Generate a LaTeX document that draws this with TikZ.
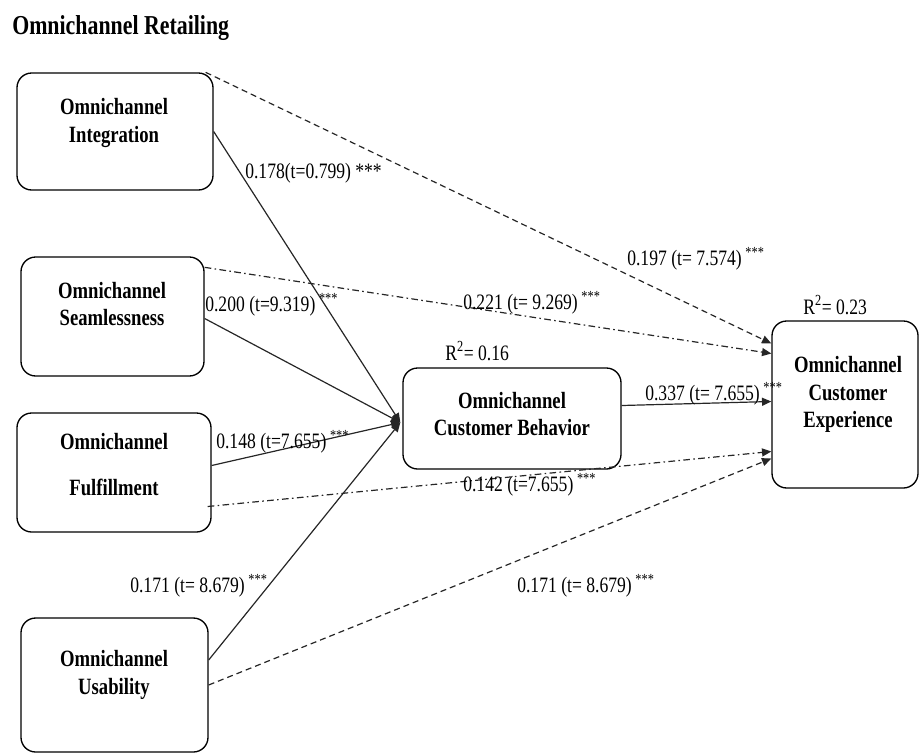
\documentclass[tikz,border=0pt]{standalone}
\usepackage{fontspec}
\setmainfont{Liberation Serif}[FakeStretch=0.8]
\usetikzlibrary{arrows.meta,calc}
\newcommand\sigstars{\textsuperscript{***}}
\begin{document}
\begin{tikzpicture}[x=0.75pt,y=-0.75pt,
  box/.style={draw, line width=1pt, rounded corners=11pt, inner sep=0pt},
  boxtext/.style={font=\fontsize{17.5}{20.5}\selectfont\bfseries, align=center, inner sep=0pt},
  lbl/.style={font=\fontsize{16.5}{19}\selectfont, inner sep=0pt, anchor=west},
  conn/.style={line width=0.9pt, draw=black!85, -{Triangle[length=7pt,width=6pt]}},
  dsh/.style={dash pattern=on 4.5pt off 3pt},
  dshdot/.style={dash pattern=on 5pt off 2.5pt on 1.2pt off 2.5pt}]
\useasboundingbox (0,0) rectangle (919,754);

% title
\node[inner sep=0pt, anchor=west, font=\fontsize{20.5}{24}\selectfont\bfseries] (title) at (12,28) {Omnichannel Retailing};

% boxes
\node[box, minimum width=147pt, minimum height=87.75pt] (intg) at (115,131.5) {};
\node[box, minimum width=137.25pt, minimum height=89.25pt] (seam) at (112.5,316.5) {};
\node[box, minimum width=145.5pt, minimum height=89.25pt] (ful) at (114,472.5) {};
\node[box, minimum width=140.25pt, minimum height=100.5pt] (usab) at (114.5,685) {};
\node[box, minimum width=163.5pt, minimum height=75.75pt] (cb) at (512,418.5) {};
\node[box, minimum width=109.5pt, minimum height=125.25pt] (ce) at (845,404.5) {};

% box texts
\node[boxtext] (intgT) at (114,123) {Omnichannel\\Integration};
\node[boxtext] (seamT) at (112,304) {Omnichannel\\Seamlessness};
\node[boxtext] (fulT) at (114,465) {Omnichannel\\[14pt]Fulfillment};
\node[boxtext] (usabT) at (114,675) {Omnichannel\\Usability};
\node[boxtext] (cbT) at (512,414) {Omnichannel\\Customer Behavior};
\node[boxtext] (ceT) at (848,394.5) {Omnichannel\\Customer\\Experience};

% connector end points
\coordinate (cbin) at ($(cb.west)+(-2,4)$);
\coordinate (seamA) at ($(seam.east)+(0,2)$);
\coordinate (seamB) at ($(seam.north east)+(0,11)$);
\coordinate (intgB) at ($(intg.north east)+(-8,0)$);
\coordinate (fulA) at ($(ful.east)+(0,-7)$);
\coordinate (fulB) at ($(ful.east)+(-4,34)$);
\coordinate (usabA) at ($(usab.east)+(0,-25)$);
\coordinate (cbout) at ($(cb.east)+(0,-13)$);
\coordinate (ceA) at ($(ce.west)+(0,-61)$);
\coordinate (ceB) at ($(ce.west)+(0,-51)$);
\coordinate (ceC) at ($(ce.west)+(0,-3)$);
\coordinate (ceD) at ($(ce.west)+(0,47)$);
\coordinate (ceE) at ($(ce.west)+(0,54)$);

% connectors
\draw[conn] (intg.east) -- (cbin);
\draw[conn] (seamA) -- (cbin);
\draw[conn] (fulA) -- (cbin);
\draw[conn] (usabA) -- (cbin);
\draw[conn] (cbout) -- (ceC);
\draw[conn, dsh] (intgB) -- (ceA);
\draw[conn, dshdot] (seamB) -- (ceB);
\draw[conn, dshdot] (fulB) -- (ceD);
\draw[conn, dsh] (usab.east) -- (ceE);

% labels
\node[lbl] (l1) at (245,173) {0.178(t=0.799) ***};
\node[lbl] (l2) at (205,305) {0.200 (t=9.319)\,\sigstars};
\node[lbl] (l3) at (627,259) {0.197 (t= 7.574)\,\sigstars};
\node[lbl] (l4) at (463,303) {0.221 (t= 9.269)\,\sigstars};
\node[lbl] (l5) at (645,394) {0.337 (t= 7.655)\,\sigstars};
\node[lbl] (l6) at (216,442) {0.148 (t=7.655)\,\sigstars};
\node[lbl] (l7) at (463,485) {0.142 (t=7.655)\,\sigstars};
\node[lbl] (l8) at (130,586) {0.171 (t= 8.679)\,\sigstars};
\node[lbl] (l9) at (517,586) {0.171 (t= 8.679)\,\sigstars};
\node[lbl] (r1) at (445,351) {R\textsuperscript{2}= 0.16};
\node[lbl] (r2) at (803,305) {R\textsuperscript{2}= 0.23};
\end{tikzpicture}
\end{document}
